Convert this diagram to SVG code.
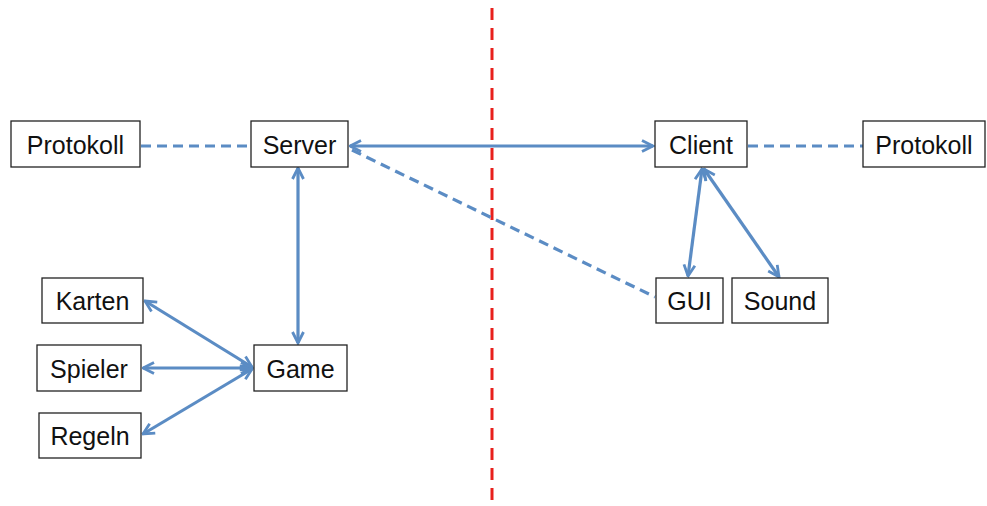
<svg xmlns="http://www.w3.org/2000/svg" width="987" height="506" viewBox="0 0 987 506">
<style>
.box{fill:#fff;stroke:#222;stroke-width:1.3}
.lbl{font-family:"Liberation Sans",Arial,sans-serif;font-size:25px;fill:#111;text-anchor:middle;dominant-baseline:central}
.c{fill:none;stroke:#5b8cc4;stroke-width:3.2}
.d{stroke-dasharray:10 6}
</style>
<defs>
<marker id="ah" viewBox="0 0 14 14" refX="12.5" refY="7" markerWidth="14" markerHeight="14" markerUnits="userSpaceOnUse" orient="auto-start-reverse">
<path d="M1.5,1.5 L12.5,7 L1.5,12.5" fill="none" stroke="#5b8cc4" stroke-width="2.8"/>
</marker>
</defs>
<rect width="987" height="506" fill="#fff"/>
<line x1="492" y1="8" x2="492" y2="502" stroke="#e8201c" stroke-width="3" stroke-dasharray="12 8"/>
<g id="connectors">
<line class="c d" x1="141" y1="146" x2="251" y2="146"/>
<line class="c d" x1="748" y1="146" x2="863" y2="146"/>
<line class="c" x1="350" y1="146" x2="653" y2="146" marker-start="url(#ah)" marker-end="url(#ah)"/>
<line class="c d" x1="352" y1="150" x2="655" y2="297"/>
<line class="c" x1="298" y1="168" x2="298" y2="343" marker-start="url(#ah)" marker-end="url(#ah)"/>
<line class="c" x1="145" y1="301" x2="252" y2="367" marker-start="url(#ah)" marker-end="url(#ah)"/>
<line class="c" x1="143" y1="368" x2="252" y2="368" marker-start="url(#ah)" marker-end="url(#ah)"/>
<line class="c" x1="143" y1="434" x2="252" y2="369" marker-start="url(#ah)" marker-end="url(#ah)"/>
<line class="c" x1="702" y1="169" x2="688" y2="276" marker-start="url(#ah)" marker-end="url(#ah)"/>
<line class="c" x1="704" y1="169" x2="779" y2="277" marker-start="url(#ah)" marker-end="url(#ah)"/>
</g>
<g id="protokoll-left"><rect class="box" x="11" y="121" width="129" height="46"/><text class="lbl" x="75.5" y="145">Protokoll</text></g>
<g id="server"><rect class="box" x="251" y="121" width="97" height="46"/><text class="lbl" x="299.5" y="145">Server</text></g>
<g id="client"><rect class="box" x="655" y="121" width="92" height="46"/><text class="lbl" x="701" y="145">Client</text></g>
<g id="protokoll-right"><rect class="box" x="863" y="121" width="122" height="46"/><text class="lbl" x="924" y="145">Protokoll</text></g>
<g id="karten"><rect class="box" x="42" y="278" width="101" height="45"/><text class="lbl" x="92.5" y="301">Karten</text></g>
<g id="spieler"><rect class="box" x="37" y="345" width="104" height="46"/><text class="lbl" x="89" y="369">Spieler</text></g>
<g id="regeln"><rect class="box" x="39" y="413" width="102" height="45"/><text class="lbl" x="90" y="436">Regeln</text></g>
<g id="game"><rect class="box" x="254" y="345" width="93" height="46"/><text class="lbl" x="300.5" y="369">Game</text></g>
<g id="gui"><rect class="box" x="656" y="278" width="67" height="45"/><text class="lbl" x="689.5" y="301">GUI</text></g>
<g id="sound"><rect class="box" x="732" y="278" width="96" height="45"/><text class="lbl" x="780" y="301">Sound</text></g>
</svg>
